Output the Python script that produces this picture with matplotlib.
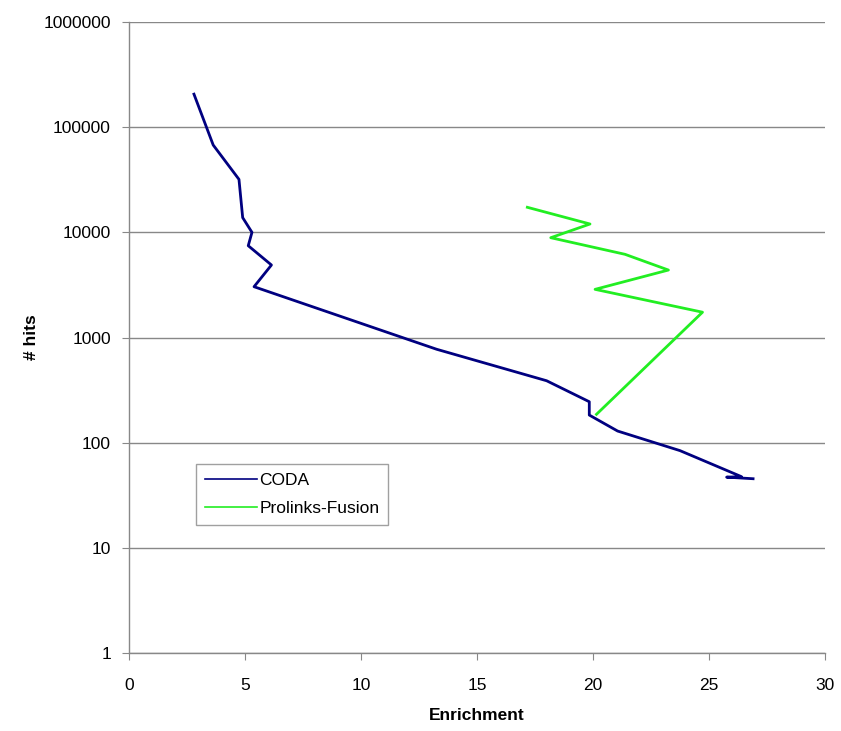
import numpy as np
import matplotlib.pyplot as plt
from matplotlib.ticker import FixedLocator, NullLocator

# CODA curve (enrichment vs number of hits)
coda_x = [2.8, 3.63, 4.74, 4.9, 5.3, 5.14, 6.14, 5.39, 13.26, 18.0, 19.84, 19.84, 21.06, 23.75, 26.4, 25.76, 26.9]
coda_y = [206000, 67600, 31900, 13800, 10000, 7460, 4890, 3040, 773, 388, 245, 183, 129, 84, 47.5, 47, 45.4]

# Prolinks-Fusion curve
fusion_x = [17.17, 19.87, 18.18, 21.38, 23.25, 20.09, 24.72, 20.15]
fusion_y = [17300, 12000, 8890, 6180, 4380, 2870, 1740, 186]

y_ticks = [1, 10, 100, 1000, 10000, 100000, 1000000]
x_ticks = [0, 5, 10, 15, 20, 25, 30]

plt.rcParams['font.family'] = ['Liberation Sans', 'DejaVu Sans']

W, H = 841, 731
fig = plt.figure(figsize=(W / 100, H / 100), dpi=100)
ax = fig.add_axes([129 / W, (H - 653) / H, (825 - 129) / W, (653 - 22) / H])

ax.plot(coda_x, coda_y, color='#000080', lw=2, label='CODA')
ax.plot(fusion_x, fusion_y, color='#22ee22', lw=2, label='Prolinks-Fusion')

ax.set_yscale('log')
ax.set_xlim(0, 30)
ax.set_ylim(1, 1000000)
ax.yaxis.set_major_locator(FixedLocator(y_ticks))
ax.yaxis.set_minor_locator(NullLocator())
ax.set_yticklabels([str(t) for t in y_ticks])
ax.set_xticks(x_ticks)
ax.set_xticklabels([str(t) for t in x_ticks])

ax.grid(axis='y', color='#888888', lw=1)
ax.set_axisbelow(True)
for s in ['top', 'right']:
    ax.spines[s].set_visible(False)
for s in ['left', 'bottom']:
    ax.spines[s].set_color('#888888')
    ax.spines[s].set_linewidth(1)
ax.tick_params(axis='both', direction='out', length=5, color='#888888', labelsize=12.5, pad=8)
ax.tick_params(axis='x', pad=13)

ax.set_xlabel('Enrichment', fontsize=12.5, fontweight='bold', labelpad=11)
ax.set_ylabel('# hits', fontsize=12.5, fontweight='bold', labelpad=3)

leg = ax.legend(loc='upper left', bbox_to_anchor=((196 - 129) / (825 - 129), (653 - 464) / (653 - 22)),
                frameon=True, fancybox=False, edgecolor='#888888', fontsize=12.5,
                handlelength=3.0, borderpad=0.5, labelspacing=0.75, handletextpad=0.15,
                borderaxespad=0)
for line in leg.get_lines():
    line.set_linewidth(1.2)

fig.savefig('out.png', dpi=100)
